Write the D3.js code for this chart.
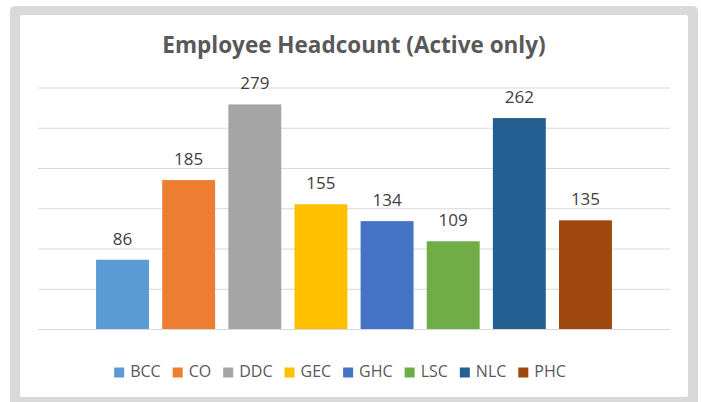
<!DOCTYPE html>
<html>
<head>
<meta charset="utf-8">
<script src="https://cdn.jsdelivr.net/npm/d3@7"></script>
<style>
  html, body { margin: 0; padding: 0; background: #fff; }
  svg { display: block; font-family: "Open Sans", "Noto Sans", sans-serif; }
</style>
</head>
<body>
<svg id="chart" width="701" height="402"></svg>
<script>
// ---------------------------------------------------------------------------
// Employee headcount - clustered column, Office palette
// ---------------------------------------------------------------------------

const sites = ['BCC', 'CO', 'DDC', 'GEC', 'GHC', 'LSC', 'NLC', 'PHC'];
const headcount = [86, 185, 279, 155, 134, 109, 262, 135];
const siteColors = ['#5B9BD5', '#ED7D31', '#A5A5A5', '#FFC000', '#4472C4', '#70AD47', '#255E91', '#9E480E'];
const gridTicks = [0, 50, 100, 150, 200, 250, 300];

const W = 701, H = 402;
const plot = { left: 38, right: 670, top: 87.5, bottom: 329 };

const svg = d3.select('#chart');

// Frame around the chart area
svg.append('rect')
    .attr('x', 10).attr('y', 6)
    .attr('width', 688).attr('height', 402)
    .attr('rx', 5)
    .attr('fill', '#d9d9d9');
svg.append('rect')
    .attr('x', 20).attr('y', 15)
    .attr('width', 668).attr('height', 382)
    .attr('rx', 2)
    .attr('fill', '#fff');

// Scales
const x = d3.scaleBand()
    .domain(sites)
    .range([plot.left, plot.right])
    .paddingInner(0.2)
    .paddingOuter(0.878);

const y = d3.scaleLinear()
    .domain([0, 300])
    .range([plot.bottom, plot.top]);

// Gridlines
const grid = svg.append('g')
    .attr('transform', `translate(${plot.left},0)`)
    .call(d3.axisLeft(y)
        .tickValues(gridTicks)
        .tickSize(-(plot.right - plot.left))
        .tickFormat(''));
grid.select('.domain').remove();
grid.selectAll('.tick line')
    .attr('stroke', '#d9d9d9')
    .attr('stroke-width', 1);

// Bars
svg.append('g')
    .selectAll('rect')
    .data(sites)
    .join('rect')
    .attr('x', d => x(d))
    .attr('y', (d, i) => y(headcount[i]))
    .attr('width', x.bandwidth())
    .attr('height', (d, i) => y(0) - y(headcount[i]))
    .attr('fill', (d, i) => siteColors[i]);

// Value labels
svg.append('g')
    .selectAll('text')
    .data(sites)
    .join('text')
    .attr('x', d => x(d) + x.bandwidth() / 2)
    .attr('y', (d, i) => y(headcount[i]) - 15)
    .attr('text-anchor', 'middle')
    .attr('font-size', 17)
    .attr('fill', '#404040')
    .text((d, i) => headcount[i]);

// Title
svg.append('text')
    .attr('x', 354)
    .attr('y', 53)
    .attr('text-anchor', 'middle')
    .attr('font-size', 22.5)
    .attr('font-weight', 'bold')
    .attr('fill', '#595959')
    .text('Employee Headcount (Active only)');

// Legend - measure labels, then center the row
const legend = svg.append('g');
const sw = 10, swGap = 6, itemGap = 12, legendCenter = 340, legendBase = 377;

const items = legend.selectAll('g')
    .data(sites)
    .join('g');
items.append('rect')
    .attr('width', sw)
    .attr('height', sw)
    .attr('y', legendBase - 9.5)
    .attr('fill', (d, i) => siteColors[i]);
items.append('text')
    .attr('x', sw + swGap)
    .attr('y', legendBase)
    .attr('font-size', 16)
    .attr('fill', '#595959')
    .text(d => d);

const widths = [];
items.each(function () {
    widths.push(sw + swGap + d3.select(this).select('text').node().getComputedTextLength());
});
const total = d3.sum(widths) + itemGap * (widths.length - 1);
let cursor = legendCenter - total / 2;
items.attr('transform', (d, i) => {
    const t = `translate(${cursor},0)`;
    cursor += widths[i] + itemGap;
    return t;
});
</script>
</body>
</html>
